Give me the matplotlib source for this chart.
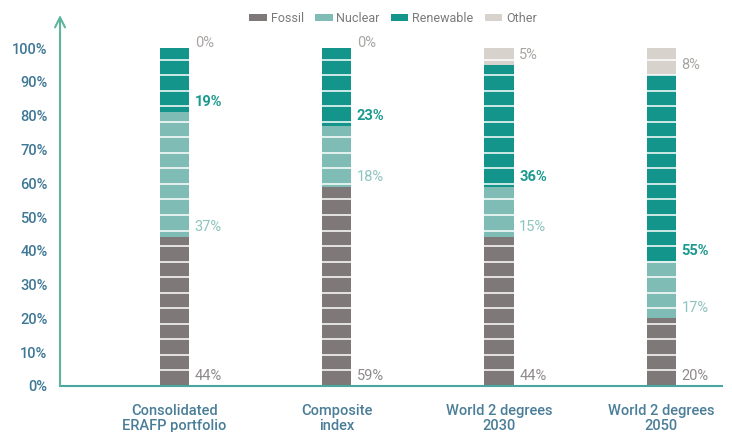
import numpy as np
import matplotlib
matplotlib.use('Agg')
import matplotlib.pyplot as plt

# data (percent of portfolio)
categories = ['Consolidated\nERAFP portfolio', 'Composite\nindex',
              'World 2 degrees\n2030', 'World 2 degrees\n2050']
series = ['Fossil', 'Nuclear', 'Renewable', 'Other']
fossil = [44, 59, 44, 20]
nuclear = [37, 18, 15, 17]
renewable = [19, 23, 36, 55]
other = [0, 0, 5, 8]

colors = {'Fossil': '#7f7878', 'Nuclear': '#80bcb6',
          'Renewable': '#14958c', 'Other': '#d8d2cc'}
label_colors = {'Fossil': '#8e8a8a', 'Nuclear': '#8cc5bf',
                'Renewable': '#1a9a8f', 'Other': '#a9a5a2'}

plt.rcParams['font.family'] = ['Roboto', 'DejaVu Sans']

fig = plt.figure(figsize=(7.32, 4.32), dpi=100)
ax = fig.add_axes([0.082, 0.1065, 0.904, 0.8587])

x = np.arange(len(categories))
width = 0.18
values = [fossil, nuclear, renewable, other]
bottom = np.zeros(len(categories))

for name, vals in zip(series, values):
    vals = np.array(vals, dtype=float)
    ax.bar(x, vals, width, bottom=bottom, color=colors[name], label=name,
           linewidth=0, zorder=2)
    for i in range(len(x)):
        if name == 'Other' and vals[i] == 0:
            ypos = bottom[i] + 1.5
        else:
            ypos = bottom[i] + 3
        ax.text(x[i] + width / 2 + 0.035, ypos, '%d%%' % vals[i],
                color=label_colors[name], fontsize=10.5, va='center', ha='left',
                fontweight='bold' if name == 'Renewable' else 'normal')
    bottom = bottom + vals

# white stripes across the bars
stripes = np.arange(4.6, 100, 4.6)
for i in range(len(x)):
    ax.hlines(stripes, x[i] - width / 2, x[i] + width / 2, colors='white',
              linewidth=1.1, zorder=3)

ax.set_xlim(-0.705, 3.373)
ax.set_ylim(0, 109.8)
ax.set_yticks(np.arange(0, 101, 10))
ax.set_yticklabels(['%d%%' % v for v in range(0, 101, 10)])
ax.set_xticks(x)
ax.set_xticklabels(categories)
ax.tick_params(axis='y', length=0, pad=9, labelsize=10.5, labelcolor='#3f7896')
ax.tick_params(axis='x', length=0, pad=13, labelsize=10.5, labelcolor='#4a7d98')
for lbl in ax.get_xticklabels() + ax.get_yticklabels():
    lbl.set_fontweight('medium')
for lbl in ax.get_xticklabels():
    lbl.set_linespacing(1.05)

for s in ['top', 'right', 'left']:
    ax.spines[s].set_visible(False)
ax.spines['bottom'].set_color('#4aa6a0')
ax.spines['bottom'].set_linewidth(1.5)

ax.annotate('', xy=(0, 1.0), xytext=(0, 0), xycoords='axes fraction',
            arrowprops=dict(arrowstyle='->', color='#5fb49c', lw=1.5,
                            mutation_scale=18, shrinkA=0, shrinkB=0))

fig.legend(loc='center', bbox_to_anchor=(0.537, 0.958), ncol=4, frameon=False,
           handlelength=1.4, handleheight=0.45, handletextpad=0.3,
           columnspacing=0.9, fontsize=9, labelcolor='#7a7a7a')

fig.savefig('out.png', dpi=100)
